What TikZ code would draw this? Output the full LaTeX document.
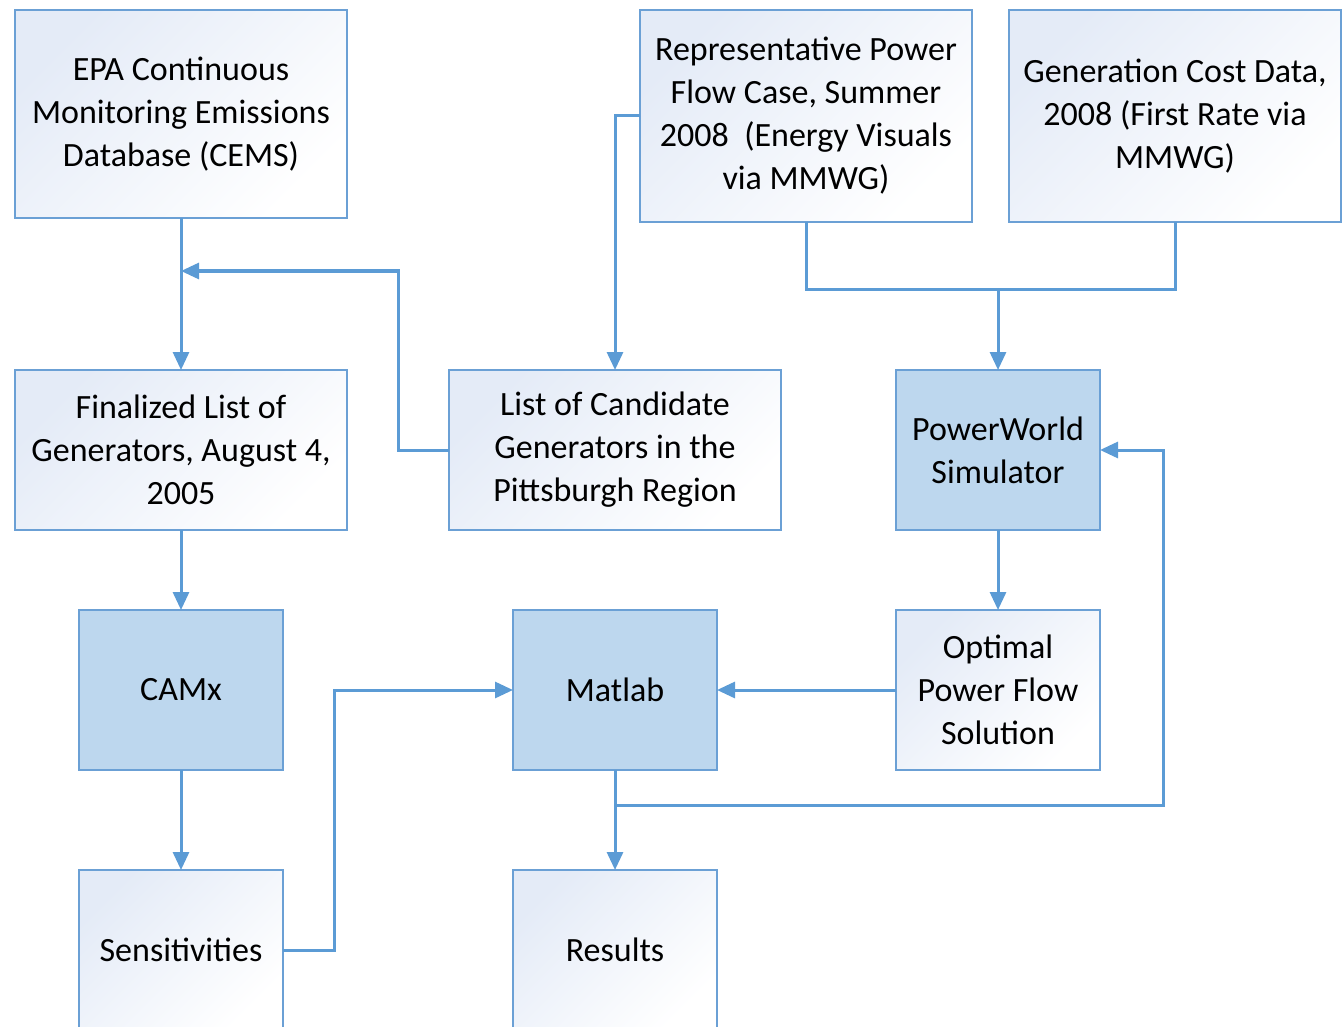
\documentclass[tikz,border=0pt]{standalone}
\usepackage{fontspec}
\setmainfont{Carlito}
\usepackage{tikz}
\usetikzlibrary{arrows.meta, positioning}
\definecolor{boxblue}{RGB}{107,160,213}
\definecolor{linkblue}{RGB}{91,155,213}
\definecolor{fillblue}{RGB}{189,215,238}
\definecolor{tintblue}{RGB}{228,235,247}

\begin{document}
\begin{tikzpicture}[x=0.5pt,y=-0.5pt,
    every node/.style={font=\fontsize{17}{21.5}\selectfont},
    box/.style={draw=boxblue,line width=1pt,align=center,inner sep=0pt,outer sep=0pt,
        top color=tintblue,bottom color=white,shading angle=45},
    darkbox/.style={draw=boxblue,line width=1pt,align=center,inner sep=0pt,outer sep=0pt,
        fill=fillblue},
    link/.style={-{Triangle[length=9pt,width=8pt]},linkblue,line width=1.5pt}]
  \useasboundingbox (0,0) rectangle (1343,1027);
  \clip (0,0) rectangle (1343,1027);
  % top row
  \node[box,minimum width=166pt,minimum height=104pt] (epa) at (181,114)
    {EPA Continuous\\Monitoring Emissions\\Database (CEMS)};
  \node[box,minimum width=166pt,minimum height=106pt] (rep) at (806,116)
    {Representative Power\\Flow Case, Summer\\2008~~(Energy Visuals\\via MMWG)};
  \node[box,minimum width=166pt,minimum height=106pt,right=18.5pt of rep] (cost)
    {Generation Cost Data,\\2008 (First Rate via\\MMWG)};
  % middle rows
  \node[box,minimum width=166pt,minimum height=80pt,below=76pt of epa] (final)
    {Finalized List of\\Generators, August 4,\\2005};
  \node[box,minimum width=166pt,minimum height=80pt,right=51pt of final] (cand)
    {List of Candidate\\Generators in the\\Pittsburgh Region};
  \node[darkbox,minimum width=102pt,minimum height=80pt,right=57.5pt of cand] (pw)
    {PowerWorld\\Simulator};
  \node[darkbox,minimum width=102pt,minimum height=80pt,below=40pt of final] (camx) {CAMx};
  \node[darkbox,minimum width=102pt,minimum height=80pt,below=40pt of cand] (matlab) {Matlab};
  \node[box,minimum width=102pt,minimum height=80pt,below=40pt of pw] (opf)
    {Optimal\\Power Flow\\Solution};
  % bottom row (cut off by the page)
  \node[box,minimum width=102pt,minimum height=80pt,below=50pt of camx] (sens) {Sensitivities};
  \node[box,minimum width=102pt,minimum height=80pt,below=50pt of matlab] (res) {Results};
  % connectors
  \coordinate (join) at (181,271);
  \coordinate (bus) at (998,289);
  \coordinate (loop) at (1163,805);
  \draw[link] (epa) -- (final);
  \draw[link] (cand.west) -- ++(-51,0) |- (join);
  \draw[link] (rep.west) -| (cand.north);
  \draw[linkblue,line width=1.5pt] (rep.south) |- (bus) -| (cost.south);
  \draw[link] (bus) -- (pw.north);
  \draw[link] (pw) -- (opf);
  \draw[link] (opf) -- (matlab);
  \draw[link] (final) -- (camx);
  \draw[link] (camx) -- (sens);
  \draw[link] (sens.east) -- ++(51,0) |- (matlab.west);
  \draw[link] (matlab) -- (res);
  \draw[link] (matlab.south) |- (loop) |- (pw.east);
\end{tikzpicture}
\end{document}
